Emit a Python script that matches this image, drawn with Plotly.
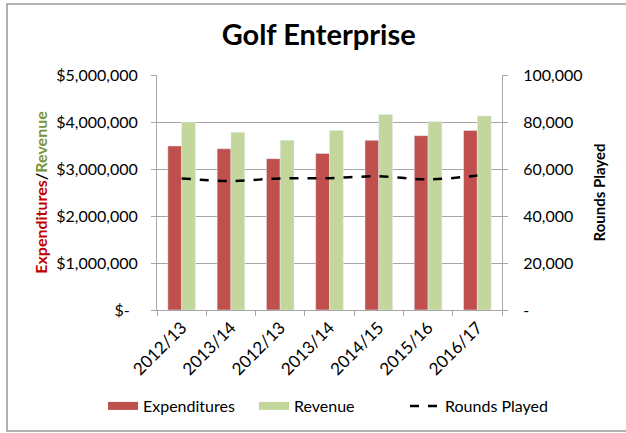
import plotly.graph_objects as go

seasons = ["2012/13", "2013/14", "2012/13", "2013/14", "2014/15", "2015/16", "2016/17"]
expenditures = [3490000, 3430000, 3220000, 3330000, 3610000, 3710000, 3820000]
revenue = [4000000, 3780000, 3610000, 3820000, 4160000, 4010000, 4130000]
rounds_played = [56000, 54900, 56000, 56100, 56900, 55600, 57200]

money_ticks = [0, 1000000, 2000000, 3000000, 4000000, 5000000]
money_labels = ["$-\u00a0\u00a0", "$1,000,000", "$2,000,000", "$3,000,000", "$4,000,000", "$5,000,000"]
rounds_ticks = [0, 20000, 40000, 60000, 80000, 100000]
rounds_labels = ["-", "20,000", "40,000", "60,000", "80,000", "100,000"]

xs = list(range(len(seasons)))
font = "Lato"
grid = "#A6A6A6"
red = "#C0504D"
green = "#C3D69B"

fig = go.Figure()
fig.add_trace(go.Bar(x=xs, y=expenditures, name="Expenditures", marker_color=red,
                     showlegend=False, legendgroup="exp"))
fig.add_trace(go.Bar(x=xs, y=revenue, name="Revenue", marker_color=green,
                     showlegend=False, legendgroup="rev"))
fig.add_trace(go.Scatter(x=xs, y=rounds_played, name="Rounds Played", yaxis="y2",
                         mode="lines", showlegend=False, legendgroup="rnd",
                         line=dict(color="black", width=2.5, dash="dash", shape="spline")))
# wide legend swatches like the Excel original
fig.add_trace(go.Scatter(x=[None], y=[None], name="Expenditures", mode="lines",
                         legendgroup="exp", line=dict(color=red, width=8)))
fig.add_trace(go.Scatter(x=[None], y=[None], name="Revenue", mode="lines",
                         legendgroup="rev", line=dict(color=green, width=8)))
fig.add_trace(go.Scatter(x=[None], y=[None], name="Rounds Played", mode="lines",
                         legendgroup="rnd", line=dict(color="black", width=2.5, dash="dash")))

fig.update_layout(
    width=626, height=433,
    margin=dict(l=157, r=124, t=75, b=123, autoexpand=False),
    paper_bgcolor="white", plot_bgcolor="white",
    font=dict(family=font, size=16, color="black"),
    title=dict(text="<b>Golf Enterprise</b>", x=0.509, xref="container", xanchor="center",
               y=1 - 35 / 433, yanchor="middle", font=dict(size=29)),
    barmode="group", bargap=0.44, bargroupgap=0,
    showlegend=True,
    legend=dict(orientation="h", x=(103 - 157) / 345, xanchor="left",
                y=(310 - 406) / 235, yanchor="middle", font=dict(size=16), itemwidth=30,
                traceorder="normal", entrywidth=106, entrywidthmode="pixels"),
    xaxis=dict(range=[-0.5, 6.5], tickvals=xs, ticktext=seasons, tickangle=-45,
               ticks="", showline=True, linecolor=grid, linewidth=1, showgrid=False,
               zeroline=False, automargin=False, tickfont=dict(size=17),
               minor=dict(tickvals=[x - 0.5 for x in xs] + [6.5], ticks="outside",
                          ticklen=5, tickcolor=grid)),
    yaxis=dict(range=[0, 5000000], tickvals=money_ticks, ticktext=money_labels,
               showgrid=True, gridcolor=grid, gridwidth=1, zeroline=False, automargin=False,
               showline=True, linecolor=grid, ticks="outside", ticklen=5, tickcolor=grid,
               tickfont=dict(size=16), ticklabelstandoff=10,
               title=dict(text="<b><span style='color:#C00000'>Expenditures</span>/"
                               "<span style='color:#77933C'>Revenue</span></b>",
                          font=dict(size=16), standoff=4)),
    yaxis2=dict(range=[0, 100000], tickvals=rounds_ticks, ticktext=rounds_labels,
                overlaying="y", side="right", showgrid=False, zeroline=False, automargin=False,
                showline=True, linecolor=grid, ticks="outside", ticklen=5, tickcolor=grid,
                tickfont=dict(size=16), ticklabelstandoff=12,
                title=dict(text="<b>Rounds Played</b>", font=dict(size=15), standoff=12)),
)

# outer chart border
fig.add_shape(type="rect", xref="paper", yref="paper",
              x0=(7 - 157) / 345, x1=(628 - 157) / 345, y0=(310 - 431) / 235, y1=(310 - 4) / 235,
              line=dict(color="#999999", width=1.5), fillcolor="rgba(0,0,0,0)", layer="below")

fig.write_html("out.html", config={"displayModeBar": False},
               post_script="document.body.style.margin='0';")
